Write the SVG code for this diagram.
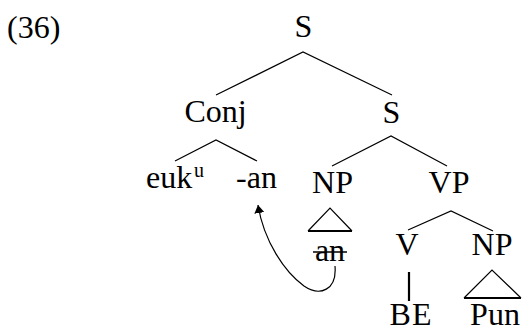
<svg xmlns="http://www.w3.org/2000/svg" width="523" height="331" viewBox="0 0 523 331">
  <defs>
    <marker id="arrowhead" markerWidth="10" markerHeight="10" refX="8" refY="5" orient="auto" markerUnits="userSpaceOnUse">
      <path d="M0,0 L8,5 L0,10 Z" fill="#000"/>
    </marker>
  </defs>

  <g id="connectors" stroke="#000" fill="none">
    <!-- S -> Conj, S -->
    <polyline stroke-width="1.2" points="216,95 303,52 392,95"/>
    <!-- Conj -> euk, -an -->
    <polyline stroke-width="1.2" points="175,161 216,140 257,161"/>
    <!-- S -> NP, VP -->
    <polyline stroke-width="1.2" points="332,166 391,136 447,166"/>
    <!-- VP -> V, NP -->
    <polyline stroke-width="1.2" points="408,230 451,211 493,231"/>
    <!-- V -> BE -->
    <line stroke-width="2.2" x1="409" y1="272" x2="409" y2="301"/>
    <!-- NP triangle over "an" -->
    <polyline stroke-width="1.2" points="308,231 330,208 352,231"/>
    <line stroke-width="2.2" x1="308" y1="231" x2="352" y2="231"/>
    <!-- NP triangle over "Pun" -->
    <polyline stroke-width="1.2" points="464,298 492,270 521,298"/>
    <line stroke-width="2.2" x1="464" y1="298" x2="521" y2="298"/>
    <!-- movement arrow from "an" to "-an" -->
    <path stroke-width="1.2" d="M 335 266 C 337 290, 320 297, 304 286 C 285 272, 264 242, 258 205" marker-end="url(#arrowhead)"/>
  </g>

  <g id="labels" font-family="'Liberation Serif', 'Times New Roman', serif" font-size="32" fill="#000" text-anchor="middle">
    <text id="example-number" x="7" y="38" text-anchor="start">(36)</text>
    <g id="node-S-root"><text x="303.5" y="37">S</text></g>
    <g id="node-Conj"><text x="215.5" y="122">Conj</text></g>
    <g id="node-S"><text x="391.5" y="123">S</text></g>
    <g id="node-euk"><text x="146" y="188" text-anchor="start">euk</text><text x="194" y="177" font-size="20" text-anchor="start">u</text></g>
    <g id="node-an-suffix"><text x="256.5" y="188">-an</text></g>
    <g id="node-NP"><text x="332.5" y="193">NP</text></g>
    <g id="node-VP"><text x="449" y="193">VP</text></g>
    <g id="node-an"><text x="330" y="261">an</text><line x1="313" y1="252" x2="347" y2="252" stroke="#000" stroke-width="1.6"/></g>
    <g id="node-V"><text x="407" y="255">V</text></g>
    <g id="node-NP2"><text x="492" y="255">NP</text></g>
    <g id="node-BE"><text x="411" y="325" letter-spacing="1">BE</text></g>
    <g id="node-Pun"><text x="495" y="325">Pun</text></g>
  </g>
</svg>
